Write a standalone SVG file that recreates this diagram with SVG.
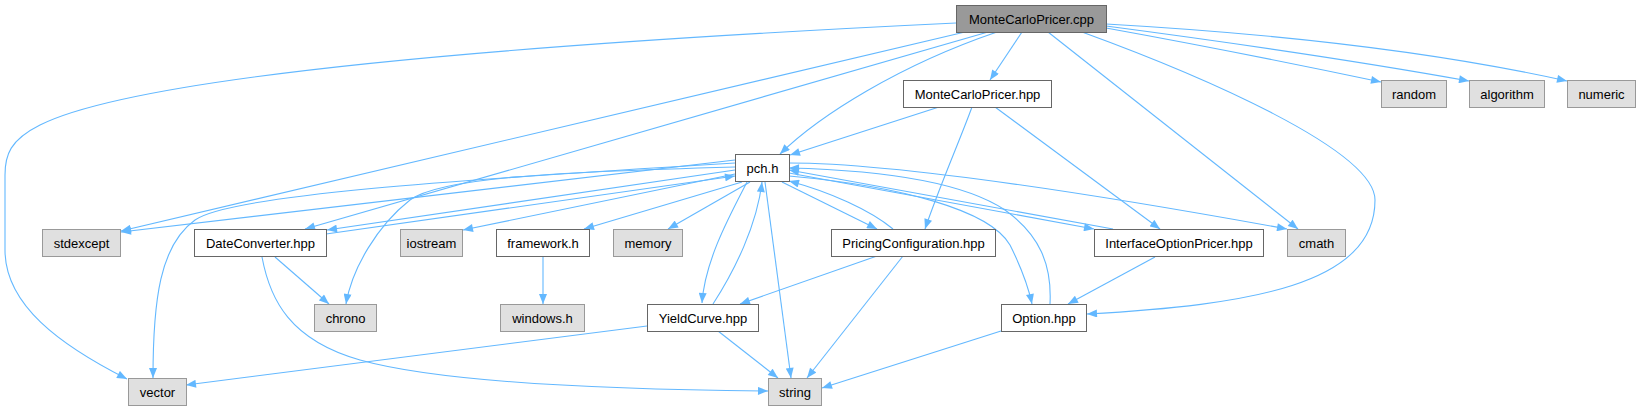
<svg xmlns="http://www.w3.org/2000/svg" width="1640" height="411" viewBox="0 0 1640 411">
<style>
.n rect{stroke-width:1}
.main rect{fill:#999999;stroke:#666666}
.int rect{fill:#ffffff;stroke:#666666}
.ext rect{fill:#e0e0e0;stroke:#999999}
text{font-family:"Liberation Sans",Arial,sans-serif;font-size:13px;fill:#000000;text-anchor:middle}
#edges path{fill:none;stroke:#63b8ff;stroke-width:1.1;marker-end:url(#ah)}
</style>
<defs>
<marker id="ah" viewBox="0 0 10 8" refX="10" refY="4" markerWidth="11" markerHeight="8" orient="auto" markerUnits="userSpaceOnUse">
<path d="M0,0 L10,4 L0,8 z" fill="#63b8ff"/>
</marker>
</defs>
<rect width="1640" height="411" fill="#ffffff"/>
<g id="edges">
<!-- main edges -->
<path d="M956,23 C 600,40 150,70 40,125 C 10,140 5,155 5,175 L5,250 C 5,305 60,345 127,379"/>
<path d="M965,32 L121,231"/>
<path d="M988,32 L305,229"/>
<path d="M997,32 C 900,65 820,115 780,154"/>
<path d="M1022,32 L990,80"/>
<path d="M1048,32 L1298,229"/>
<path d="M1082,32 C 1200,75 1375,150 1375,200 C 1375,285 1250,305 1087,314"/>
<path d="M1106,28 C 1200,45 1300,65 1381,82"/>
<path d="M1106,26 C 1250,45 1380,65 1469,81"/>
<path d="M1106,24 C 1300,35 1450,55 1567,81"/>
<!-- MonteCarloPricer.hpp edges -->
<path d="M939,107 L790,155"/>
<path d="M972,107 C 960,140 940,185 925,229"/>
<path d="M995,107 L1160,229"/>
<!-- pch.h edges left -->
<path d="M735,160 L121,232"/>
<path d="M735,163 C 450,180 230,195 195,220 C 160,245 153,300 153,378"/>
<path d="M735,170 L327,230"/>
<path d="M326,234 L735,176"/>
<path d="M735,174 L463,230"/>
<path d="M735,167 C 550,172 440,178 410,200 C 378,225 352,268 346,304"/>
<path d="M742,182 L584,229"/>
<path d="M750,182 L668,229"/>
<!-- pch.h edges bottom -->
<path d="M747,182 C 730,215 705,260 702,303"/>
<path d="M713,304 C 735,270 757,225 762,182"/>
<path d="M765,182 L791,378"/>
<path d="M782,182 L877,229"/>
<path d="M893,229 C 870,210 830,192 789,181"/>
<!-- pch.h edges right -->
<path d="M789,163 C 900,163 1100,195 1287,229"/>
<path d="M789,173 L1094,229"/>
<path d="M1113,229 L789,170"/>
<path d="M789,176 C 900,186 990,210 1010,245 C 1020,265 1028,285 1032,304"/>
<path d="M1050,304 C 1052,265 1040,235 1005,210 C 960,180 870,170 789,168"/>
<!-- other edges -->
<path d="M275,257 L329,304"/>
<path d="M262,257 C 270,300 290,340 360,360 C 450,385 650,390 768,391"/>
<path d="M543,257 L543,304"/>
<path d="M877,256 L740,304"/>
<path d="M903,256 L807,378"/>
<path d="M647,326 L186,385"/>
<path d="M718,331 L778,378"/>
<path d="M1155,257 L1068,304"/>
<path d="M1001,331 L822,388"/>
</g>
<g id="node-main" class="n main"><rect x="956.5" y="5.5" width="150" height="27"/><text x="1031.5" y="23.5">MonteCarloPricer.cpp</text></g>
<g id="node-mcphpp" class="n int"><rect x="903.5" y="80.5" width="148" height="27"/><text x="977.5" y="98.5">MonteCarloPricer.hpp</text></g>
<g id="node-random" class="n ext"><rect x="1381.5" y="80.5" width="65" height="27"/><text x="1414" y="98.5">random</text></g>
<g id="node-algorithm" class="n ext"><rect x="1469.5" y="80.5" width="75" height="27"/><text x="1507" y="98.5">algorithm</text></g>
<g id="node-numeric" class="n ext"><rect x="1567.5" y="80.5" width="68" height="27"/><text x="1601.5" y="98.5">numeric</text></g>
<g id="node-pch" class="n int"><rect x="735.5" y="154.5" width="54" height="27"/><text x="762.5" y="172.5">pch.h</text></g>
<g id="node-stdexcept" class="n ext"><rect x="42.5" y="229.5" width="78" height="27"/><text x="81.5" y="247.5">stdexcept</text></g>
<g id="node-dateconverter" class="n int"><rect x="194.5" y="229.5" width="132" height="27"/><text x="260.5" y="247.5">DateConverter.hpp</text></g>
<g id="node-iostream" class="n ext"><rect x="400.5" y="229.5" width="62" height="27"/><text x="431.5" y="247.5">iostream</text></g>
<g id="node-framework" class="n int"><rect x="496.5" y="229.5" width="93" height="27"/><text x="543" y="247.5">framework.h</text></g>
<g id="node-memory" class="n ext"><rect x="613.5" y="229.5" width="69" height="27"/><text x="648" y="247.5">memory</text></g>
<g id="node-pricingconfig" class="n int"><rect x="831.5" y="229.5" width="164" height="27"/><text x="913.5" y="247.5">PricingConfiguration.hpp</text></g>
<g id="node-interface" class="n int"><rect x="1094.5" y="229.5" width="169" height="27"/><text x="1179" y="247.5">InterfaceOptionPricer.hpp</text></g>
<g id="node-cmath" class="n ext"><rect x="1287.5" y="229.5" width="58" height="27"/><text x="1316.5" y="247.5">cmath</text></g>
<g id="node-chrono" class="n ext"><rect x="314.5" y="304.5" width="62" height="27"/><text x="345.5" y="322.5">chrono</text></g>
<g id="node-windows" class="n ext"><rect x="500.5" y="304.5" width="84" height="27"/><text x="542.5" y="322.5">windows.h</text></g>
<g id="node-yieldcurve" class="n int"><rect x="647.5" y="304.5" width="111" height="27"/><text x="703" y="322.5">YieldCurve.hpp</text></g>
<g id="node-option" class="n int"><rect x="1001.5" y="304.5" width="85" height="27"/><text x="1044" y="322.5">Option.hpp</text></g>
<g id="node-vector" class="n ext"><rect x="128.5" y="378.5" width="58" height="27"/><text x="157.5" y="396.5">vector</text></g>
<g id="node-string" class="n ext"><rect x="768.5" y="378.5" width="53" height="27"/><text x="795" y="396.5">string</text></g>
</svg>
